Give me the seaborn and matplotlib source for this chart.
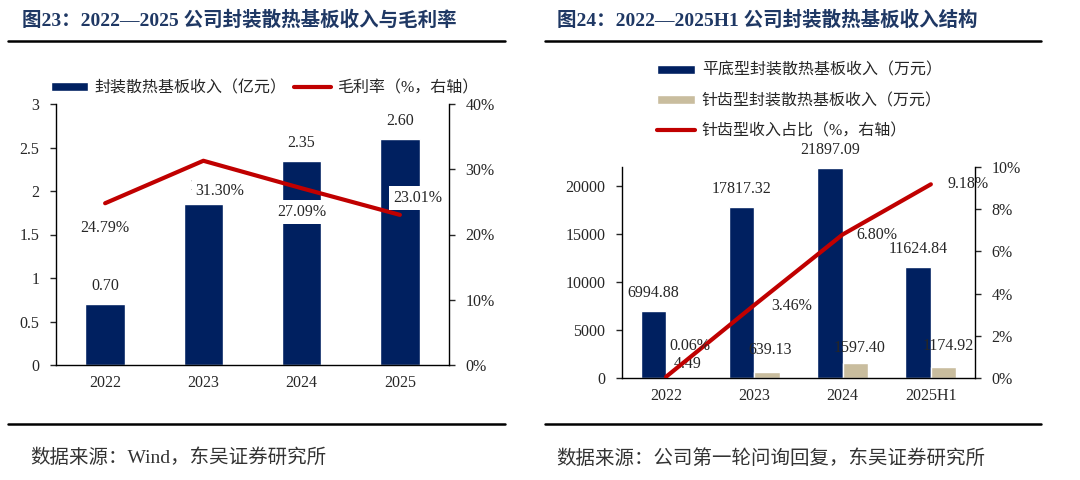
import matplotlib
matplotlib.use("Agg")
import matplotlib.pyplot as plt
from matplotlib.lines import Line2D
from matplotlib.patches import Patch
import numpy as np
import pandas as pd
import seaborn as sns

# 图23: revenue (亿元) and gross margin (%)
years_l = ["2022", "2023", "2024", "2025"]
revenue_yi = [0.70, 1.85, 2.35, 2.60]
margin_pct = [24.79, 31.30, 27.09, 23.01]

# 图24: revenue structure (万元) and share of pin-fin type (%)
years_r = ["2022", "2023", "2024", "2025H1"]
flat_rev = [6994.88, 17817.32, 21897.09, 11624.84]
pin_rev = [4.49, 639.13, 1597.40, 1174.92]
pin_share = [0.06, 3.46, 6.80, 9.18]
type_names = ["平底型封装散热基板收入（万元）", "针齿型封装散热基板收入（万元）"]

NAVY = "#002060"
BEIGE = "#C9BD9E"
RED = "#C00000"
TITLE_C = "#1F3864"

sns.set_style("white")
plt.rcParams["font.family"] = ["Liberation Serif", "Noto Sans CJK SC", "DejaVu Sans"]
plt.rcParams["font.size"] = 11

W, H = 1080, 480
fig = plt.figure(figsize=(10.8, 4.8), dpi=100)


def fx(px):
    return px / W


def fy(py):
    return 1 - py / H


def style_axes(ax, axr, n):
    for a in (ax, axr):
        a.spines["top"].set_visible(False)
        for s in ("left", "right", "bottom"):
            a.spines[s].set_color("black")
            a.spines[s].set_linewidth(1.0)
    ax.spines["right"].set_visible(False)
    axr.spines["left"].set_visible(False)
    axr.spines["bottom"].set_visible(False)
    ax.set_xlim(-0.5, n - 0.5)
    ax.set_xticks(np.arange(-0.5, n, 1))
    ax.set_xticklabels([])
    ax.tick_params(axis="x", which="major", length=5, width=1.0, direction="out")
    ax.tick_params(axis="x", which="minor", length=0, pad=7, labelsize=11.5)
    ax.tick_params(axis="y", length=4, width=1.0, direction="out", pad=8, labelsize=11.5, left=True)
    axr.tick_params(axis="y", length=4, width=1.0, direction="out", pad=8, labelsize=11.5, right=True)
    ax.set_xlabel("")
    ax.set_ylabel("")
    axr.set_ylabel("")
    ax.grid(False)
    axr.grid(False)


# ---------------- left chart ----------------
ax1 = fig.add_axes([fx(56), fy(365), fx(449 - 56), (365 - 104) / H])
sns.barplot(x=years_l, y=revenue_yi, color=NAVY, width=0.4, saturation=1, ax=ax1)
ax1.set_ylim(0, 3)
ax1.set_yticks(np.arange(0, 3.01, 0.5))
ax1.set_yticklabels([f"{v:g}" for v in np.arange(0, 3.01, 0.5)])
for i, v in enumerate(revenue_yi):
    ax1.annotate(f"{v:.2f}", (i, v), xytext=(0, 7), textcoords="offset points",
                 ha="center", va="bottom", fontsize=11.5)

ax2 = ax1.twinx()
sns.lineplot(x=np.arange(len(years_l)), y=margin_pct, color=RED, lw=3, ax=ax2)
ax2.set_ylim(0, 40)
ax2.set_yticks(np.arange(0, 41, 10))
ax2.set_yticklabels([f"{v}%" for v in range(0, 41, 10)])
off_l = [(0, -18), (12, -22), (0, -17), (13, 12)]
for i, v in enumerate(margin_pct):
    ax2.annotate(f"{v:.2f}%", (i, v), xytext=off_l[i], textcoords="offset points",
                 ha="center", va="center", fontsize=11.5,
                 bbox=dict(boxstyle="square,pad=0.25", fc="white", ec="none"))
style_axes(ax1, ax2, len(years_l))
ax1.set_xticks(np.arange(len(years_l)), minor=True)
ax1.set_xticklabels(years_l, minor=True)

fig.legend([Patch(facecolor=NAVY), Line2D([], [], color=RED, lw=3)],
           ["封装散热基板收入（亿元）", "毛利率（%，右轴）"],
           loc="center left", bbox_to_anchor=(fx(51), fy(88)), ncol=2, frameon=False,
           handlelength=2.3, handleheight=0.5, handletextpad=0.4, columnspacing=0.5,
           borderpad=0, borderaxespad=0, fontsize=11.5)

# ---------------- right chart ----------------
ax3 = fig.add_axes([fx(622), fy(378), fx(975 - 622), (378 - 167) / H])
df = pd.DataFrame({
    "year": years_r * 2,
    "value": flat_rev + pin_rev,
    "type": [type_names[0]] * len(years_r) + [type_names[1]] * len(years_r),
})
sns.barplot(data=df, x="year", y="value", hue="type", palette=[NAVY, BEIGE],
            width=0.58, saturation=1, legend=False, ax=ax3)
ax3.set_ylim(0, 22000)
ax3.set_yticks(np.arange(0, 20001, 5000))
ax3.set_yticklabels([f"{v}" for v in range(0, 20001, 5000)])
bw = 0.29
for i, v in enumerate(flat_rev):
    ax3.annotate(f"{v:.2f}", (i - bw / 2, v), xytext=(0, 7), textcoords="offset points",
                 ha="center", va="bottom", fontsize=11.5)
off_b = [(6, 4), (2, 10), (3, 5), (3, 9)]
for i, v in enumerate(pin_rev):
    ax3.annotate(f"{v:.2f}", (i + bw / 2, v), xytext=off_b[i], textcoords="offset points",
                 ha="center", va="bottom", fontsize=11.5)

ax4 = ax3.twinx()
sns.lineplot(x=np.arange(len(years_r)), y=pin_share, color=RED, lw=3, ax=ax4)
ax4.set_ylim(0, 10)
ax4.set_yticks(np.arange(0, 11, 2))
ax4.set_yticklabels([f"{v}%" for v in range(0, 11, 2)])
off_r = [(17, 22), (27, -1), (25, 0), (27, 0)]
for i, v in enumerate(pin_share):
    ax4.annotate(f"{v:.2f}%", (i, v), xytext=off_r[i], textcoords="offset points",
                 ha="center", va="center", fontsize=11.5)
style_axes(ax3, ax4, len(years_r))
ax3.set_xticks(np.arange(len(years_r)), minor=True)
ax3.set_xticklabels(years_r, minor=True)

fig.legend([Patch(facecolor=NAVY), Patch(facecolor=BEIGE), Line2D([], [], color=RED, lw=3)],
           type_names + ["针齿型收入占比（%，右轴）"],
           loc="center left", bbox_to_anchor=(fx(657), fy(101)), ncol=1, frameon=False,
           handlelength=2.4, handleheight=0.5, handletextpad=0.4, labelspacing=0.88,
           borderpad=0, borderaxespad=0, fontsize=11.5)

# ---------------- titles, rules, sources ----------------
fig.text(fx(22), fy(20), "图23：2022—2025 公司封装散热基板收入与毛利率", fontsize=14,
         fontweight="bold", color=TITLE_C, ha="left", va="center")
fig.text(fx(557), fy(20), "图24：2022—2025H1 公司封装散热基板收入结构", fontsize=14,
         fontweight="bold", color=TITLE_C, ha="left", va="center")
for x0, x1 in ((8, 505), (545, 1041)):
    for yy in (41, 424):
        fig.add_artist(Line2D([fx(x0), fx(x1)], [fy(yy), fy(yy)], color="black",
                              lw=1.8, transform=fig.transFigure))
fig.text(fx(30), fy(458), "数据来源：Wind，东吴证券研究所", fontsize=14,
         color="#333333", ha="left", va="center")
fig.text(fx(556), fy(458), "数据来源：公司第一轮问询回复，东吴证券研究所", fontsize=14,
         color="#333333", ha="left", va="center")

fig.savefig("out.png", dpi=100)
